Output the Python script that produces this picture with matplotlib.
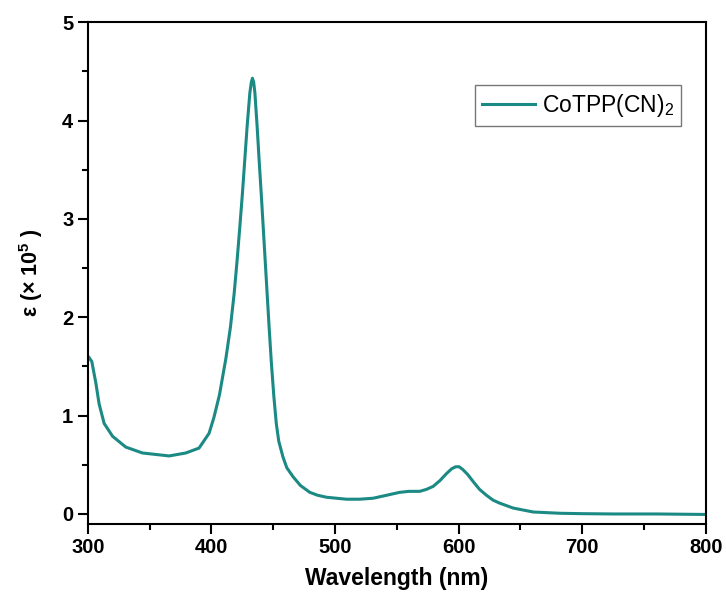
import numpy as np
import matplotlib
matplotlib.use('Agg')
import matplotlib.pyplot as plt
from matplotlib.ticker import MultipleLocator

# spectrum
wavelength = [301.0, 303.2, 306.5, 309.1, 313.2, 320.0, 330.7, 344.2, 365.8, 379.3,
              390.0, 398.1, 402.0, 406.5, 411.7, 415.4, 418.4, 420.8, 423.0, 425.1,
              427.0, 428.9, 431.1, 432.3, 433.2, 434.2, 435.2, 437.0, 438.6, 440.3,
              441.9, 443.5, 445.1, 446.7, 448.4, 450.5, 452.5, 454.5, 457.9, 461.0,
              466.0, 472.0, 479.6, 486.0, 493.1, 509.3, 520.0, 530.9, 541.7, 552.4,
              560.0, 568.6, 574.0, 579.4, 585.0, 590.2, 594.5, 597.7, 600.5, 603.6,
              607.5, 611.8, 617.0, 622.6, 628.0, 633.3, 644.2, 660.4, 682.2, 700.0,
              725.0, 760.0, 800.0]
epsilon = [1.59, 1.55, 1.33, 1.12, 0.92, 0.79, 0.68, 0.62, 0.59, 0.62,
           0.67, 0.82, 0.98, 1.21, 1.58, 1.90, 2.24, 2.58, 2.92, 3.26,
           3.60, 3.94, 4.28, 4.39, 4.43, 4.39, 4.28, 3.94, 3.60, 3.26,
           2.92, 2.58, 2.24, 1.90, 1.56, 1.20, 0.92, 0.74, 0.58, 0.47,
           0.38, 0.29, 0.22, 0.19, 0.17, 0.15, 0.15, 0.16, 0.19, 0.22,
           0.23, 0.23, 0.25, 0.28, 0.34, 0.41, 0.46, 0.48, 0.48, 0.45,
           0.40, 0.33, 0.25, 0.19, 0.14, 0.11, 0.06, 0.02, 0.007, 0.003,
           0.0, 0.0, -0.005]
label = 'CoTPP(CN)$_2$'

plt.rcParams['font.family'] = ['Liberation Sans', 'DejaVu Sans']
plt.rcParams['mathtext.fontset'] = 'custom'
plt.rcParams['mathtext.rm'] = 'Liberation Sans'
plt.rcParams['mathtext.bf'] = 'Liberation Sans:bold'

fig = plt.figure(figsize=(7.26, 6), dpi=100)
ax = fig.add_axes([0.121, 0.127, 0.851, 0.836])
ax.plot(wavelength, epsilon, color='#1b8a84', lw=2.2, label=label)

ax.set_xlim(300, 800)
ax.set_ylim(-0.1, 5)
ax.xaxis.set_major_locator(MultipleLocator(100))
ax.xaxis.set_minor_locator(MultipleLocator(50))
ax.yaxis.set_major_locator(MultipleLocator(1))
ax.yaxis.set_minor_locator(MultipleLocator(0.5))
ax.tick_params(which='both', direction='out', top=False, right=False, width=1.5)
ax.tick_params(which='major', length=7, labelsize=14.5)
ax.tick_params(which='minor', length=4)
for lb in ax.get_xticklabels() + ax.get_yticklabels():
    lb.set_fontweight('bold')
for s in ax.spines.values():
    s.set_linewidth(1.5)

ax.set_xlabel('Wavelength (nm)', fontsize=16.5, fontweight='bold', labelpad=7)
ax.set_ylabel(r'ε (× 10$^\mathbf{5}$ )', fontsize=15.5, fontweight='bold', labelpad=12)

leg = ax.legend(loc='upper right', bbox_to_anchor=(0.96, 0.875), fontsize=16.5,
                fancybox=False, framealpha=1, handlelength=2.3, handletextpad=0.3,
                borderpad=0.3, borderaxespad=0)
leg.get_frame().set_edgecolor('#777777')
leg.get_frame().set_linewidth(1)

plt.savefig('out.png', dpi=100)
